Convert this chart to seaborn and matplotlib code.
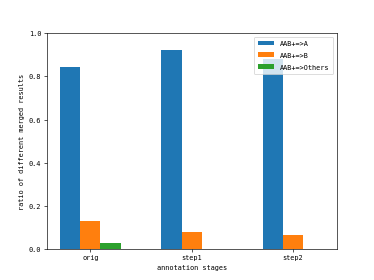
import matplotlib
matplotlib.use("Agg")
import matplotlib.pyplot as plt
import seaborn as sns
import pandas as pd

# chart values
stages = ["orig", "step1", "step2"]
series = ["AAB+=>A", "AAB+=>B", "AAB+=>Others"]
ratio_a = [0.845, 0.922, 0.880]
ratio_b = [0.132, 0.079, 0.064]
ratio_others = [0.027, 0.0, 0.0]

df = pd.DataFrame({
    "stage": stages * 3,
    "kind": [series[0]] * 3 + [series[1]] * 3 + [series[2]] * 3,
    "ratio": ratio_a + ratio_b + ratio_others,
})

plt.rcParams["font.family"] = ["DejaVu Sans Mono"]
plt.rcParams["font.size"] = 8.5

fig, ax = plt.subplots(figsize=(6.4, 4.8), dpi=374 / 6.4)

sns.barplot(data=df, x="stage", y="ratio", hue="kind", order=stages,
            hue_order=series, palette=["#1f77b4", "#ff7f0e", "#2ca02c"],
            saturation=1, width=0.6, ax=ax, errorbar=None)

ax.set_xlim(-0.43, 2.43)
ax.set_ylim(0, 1.0)
ax.set_xlabel("annotation stages")
ax.set_ylabel("ratio of different merged results")
ax.legend(loc="upper right", title=None, handlelength=2.4,
          labelspacing=0.85, borderpad=0.55)

fig.savefig("out.png", dpi=374 / 6.4)
